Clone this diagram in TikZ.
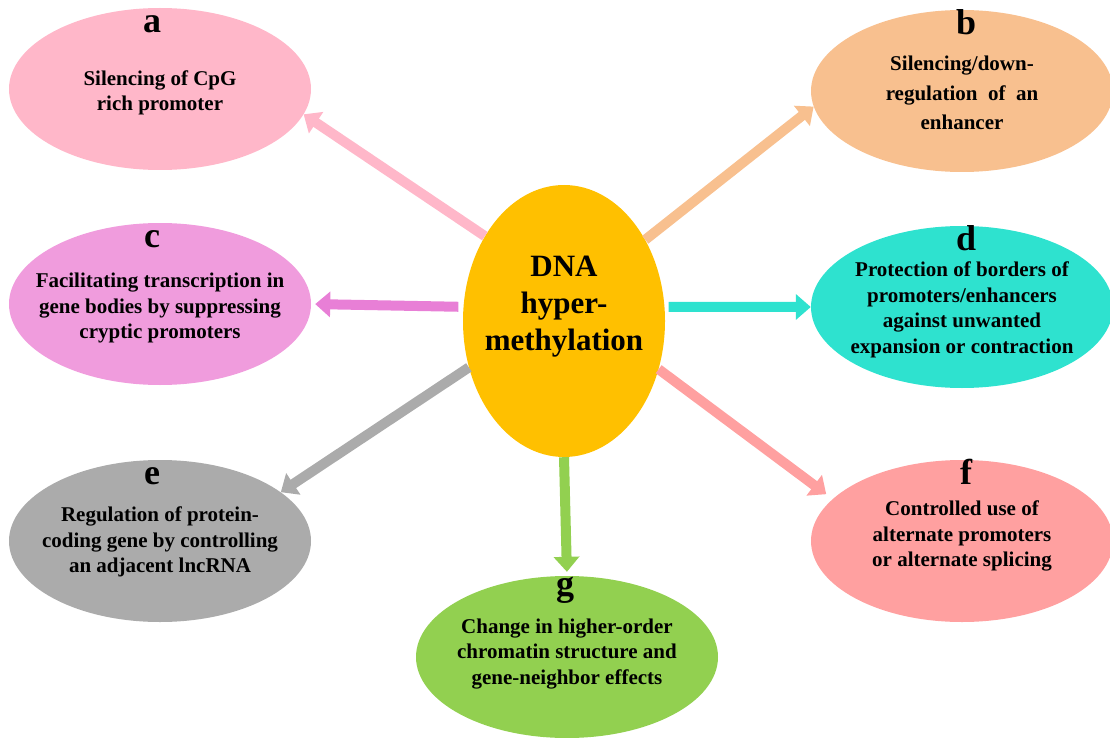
\documentclass[tikz,border=0pt]{standalone}
\usepackage{fontspec}
\setmainfont{Liberation Serif}
\usepackage{xcolor}
\usetikzlibrary{shapes,arrows.meta,positioning,calc}

\definecolor{colA}{HTML}{FFB7C9}
\definecolor{colB}{HTML}{F8C08F}
\definecolor{colC}{HTML}{F09CDD}
\definecolor{arrC}{HTML}{E87FD6}
\definecolor{colD}{HTML}{2EE2CF}
\definecolor{colE}{HTML}{ABABAB}
\definecolor{colF}{HTML}{FFA0A0}
\definecolor{colG}{HTML}{92D050}
\definecolor{colDNA}{HTML}{FFC000}

\begin{document}
\begin{tikzpicture}[x=1pt,y=-1pt,
  bubble/.style={ellipse, minimum width=302pt, minimum height=162pt, inner sep=0pt},
  txt/.style={align=center, font=\fontsize{21}{25.5}\selectfont\bfseries},
  tag/.style={anchor=base, font=\fontsize{36}{36}\selectfont\bfseries},
  link/.style={line width=10pt, -{Triangle[width=25pt,length=15pt]}}]
  \useasboundingbox (0,0) rectangle (1110,738);

  % Centre
  \node[ellipse, minimum width=202pt, minimum height=272pt, inner sep=0pt, fill=colDNA] (dna) at (564,321) {};
  \node[align=center, font=\fontsize{31}{37}\selectfont\bfseries] (dna-text) at ([yshift=14pt]dna.center) {DNA\\hyper-\\methylation};

  % Outer bubbles
  \node[bubble, fill=colA] (a) at (160,89) {};
  \node[bubble, fill=colB] (b) at (962,91) {};
  \node[bubble, fill=colC] (c) at (160,304) {};
  \node[bubble, fill=colD] (d) at (962,307) {};
  \node[bubble, fill=colE] (e) at (160,541) {};
  \node[bubble, fill=colF] (f) at (962,541) {};
  \node[bubble, fill=colG] (g) at (567,657) {};

  % Letters
  \foreach \n in {a,c,e} {
    \node[tag] (\n-tag) at ([xshift=-8pt,yshift=-25pt]\n.north) {\n};
  }
  \foreach \n in {b,d,f} {
    \node[tag] (\n-tag) at ([xshift=4pt,yshift=-25pt]\n.north) {\n};
  }
  \node[tag] (g-tag) at ([xshift=-2pt,yshift=-20pt]g.north) {g};

  % Texts
  \node[txt] (a-text) at ([yshift=-4pt]a.center) {Silencing of CpG\\rich promoter};
  \node[txt, font=\fontsize{21}{29.5}\selectfont\bfseries] (b-text) at ([yshift=-2pt]b.center) {Silencing/down-\\regulation~ of~ an\\enhancer};
  \node[txt] (c-text) at ([yshift=-4pt]c.center) {Facilitating transcription in\\gene bodies by suppressing\\cryptic promoters};
  \node[txt] (d-text) at ([yshift=-3pt]d.center) {Protection of borders of\\promoters/enhancers\\against unwanted\\expansion or contraction};
  \node[txt] (e-text) at ([yshift=-1pt]e.center) {Regulation of protein-\\coding gene by controlling\\an adjacent lncRNA};
  \node[txt] (f-text) at ([yshift=5pt]f.center) {Controlled use of\\alternate promoters\\or alternate splicing};
  \node[txt] (g-text) at ([yshift=3pt]g.center) {Change in higher-order\\chromatin structure and\\gene-neighbor effects};

  % Arrows
  \draw[link, colA] (dna.133) -- (a.-10);
  \draw[link, colB] (dna.45) -- (b.186);
  \draw[link, arrC, shorten <=5pt, shorten >=4pt] (dna.172) -- (c.0);
  \draw[link, colD, shorten <=4pt] (dna.8) -- (d.180);
  \draw[link, colE] (dna.206) -- (e.22);
  \draw[link, colF, shorten >=8pt] (dna.-27) -- (f.162);
  \draw[link, colG, shorten >=4pt] (dna.south) -- (g.north);
\end{tikzpicture}
\end{document}
